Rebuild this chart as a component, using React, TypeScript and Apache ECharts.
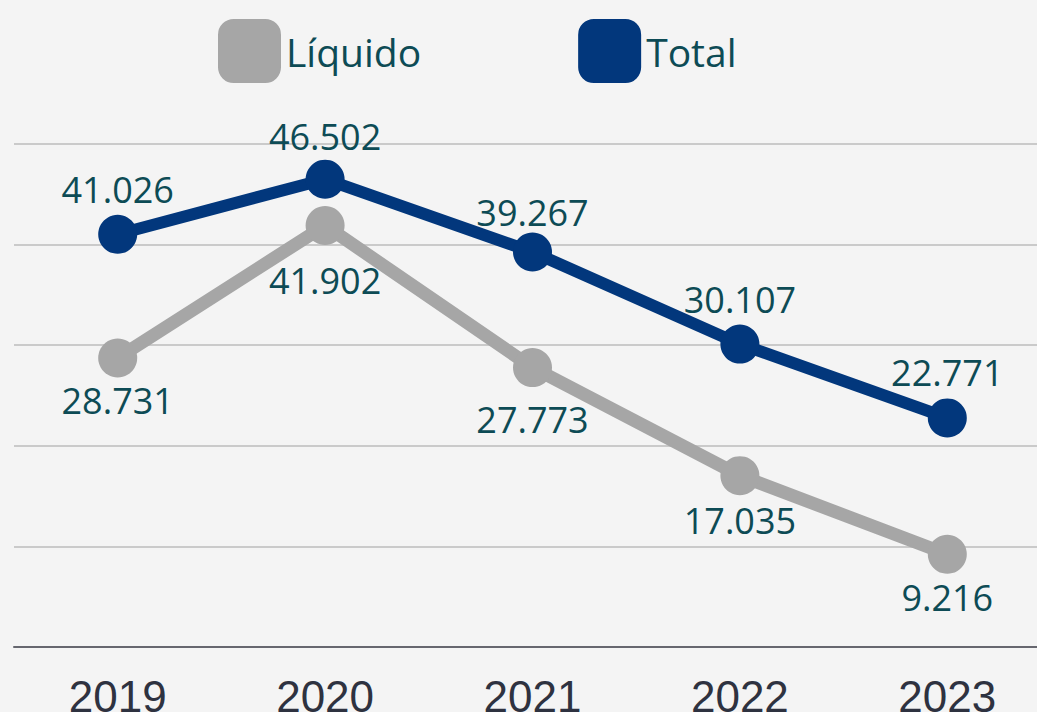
import React, { useEffect, useRef } from "react";
import * as echarts from "echarts";

const years = ["2019", "2020", "2021", "2022", "2023"];
const liquido = [28.731, 41.902, 27.773, 17.035, 9.216];
const total = [41.026, 46.502, 39.267, 30.107, 22.771];
const liquidoDist = [5, 18, 14, 7, 6];
const totalDist = [7, 5, 2, 7, 8];

const fmt = (v: number) => v.toFixed(3);

export default function App() {
  const ref = useRef<HTMLDivElement>(null);
  useEffect(() => {
    const chart = echarts.init(ref.current!, undefined, { renderer: "svg" });
    const labelBase = {
      show: true,
      fontFamily: "Open Sans",
      fontSize: 36,
      color: "#0d4b55",
      formatter: (p: any) => fmt(p.value),
    };
    chart.setOption({
      animation: false,
      backgroundColor: "#f4f4f4",
      legend: {
        left: 213,
        top: 14,
        itemWidth: 63,
        itemHeight: 64,
        itemGap: 157,
        icon: "roundRect",
        textStyle: { fontFamily: "Open Sans", fontSize: 39, color: "#0d4b55", padding: [0, 0, 0, 0] },
        data: ["Líquido", "Total"],
      },
      grid: { left: 14, right: 0, top: 144, bottom: 65, outerBoundsMode: "none", containLabel: false },
      xAxis: {
        type: "category",
        data: years,
        boundaryGap: true,
        axisLine: { lineStyle: { color: "#66676f", width: 2 } },
        axisTick: { show: false },
        axisLabel: {
          fontFamily: "Liberation Sans",
          fontSize: 44,
          color: "#2e3240",
          margin: 27,
        },
      },
      yAxis: {
        type: "value",
        min: 0,
        max: 50,
        interval: 10,
        axisLabel: { show: false },
        axisLine: { show: false },
        axisTick: { show: false },
        splitLine: { lineStyle: { color: "#bdbdbd", width: 1.5 } },
      },
      series: [
        {
          name: "Líquido",
          type: "line",
          color: "#a6a6a6",
          symbol: "circle",
          symbolSize: 39,
          lineStyle: { width: 13, color: "#a6a6a6" },
          itemStyle: { color: "#a6a6a6" },
          data: liquido.map((v, i) => ({
            value: v,
            label: { ...labelBase, position: "bottom", distance: liquidoDist[i] },
          })),
          z: 2,
        },
        {
          name: "Total",
          type: "line",
          color: "#02377c",
          symbol: "circle",
          symbolSize: 39,
          lineStyle: { width: 12, color: "#02377c" },
          itemStyle: { color: "#02377c" },
          data: total.map((v, i) => ({
            value: v,
            label: { ...labelBase, position: "top", distance: totalDist[i] },
          })),
          z: 3,
        },
      ],
    });
    return () => chart.dispose();
  }, []);
  return (
    <div style={{ width: 1037, height: 712, position: "fixed", left: 0, top: 0, overflow: "hidden" }}>
      <div ref={ref} style={{ width: 1051, height: 712 }} />
    </div>
  );
}
